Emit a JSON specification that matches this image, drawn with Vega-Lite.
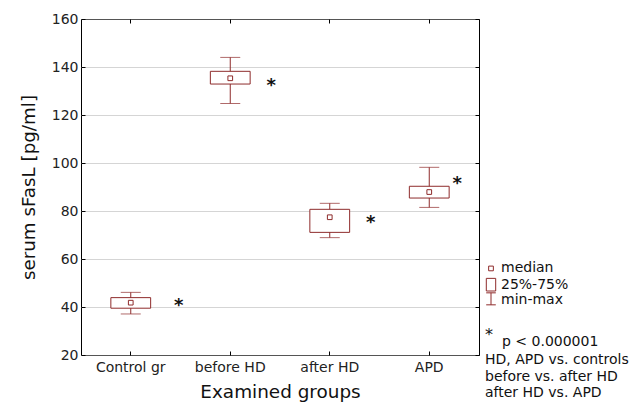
{
  "$schema": "https://vega.github.io/schema/vega-lite/v6.json",
  "padding": {"left": 18, "top": 11, "right": 0, "bottom": 0},
  "config": {
    "font": "DejaVu Sans",
    "view": {"stroke": "#000", "strokeWidth": 1},
    "axis": {"labelColor": "#222", "titleColor": "#111", "titleFontWeight": "normal", "domain": false, "tickColor": "#000"}
  },
  "spacing": 3,
  "resolve": {"scale": {"x": "independent", "y": "independent"}},
  "datasets": {
    "boxes": [
      {"group": "Control gr", "min": 37.1, "q1": 39.5, "median": 41.8, "q3": 43.9, "max": 46.1, "star": 42.9},
      {"group": "before HD", "min": 124.8, "q1": 132.9, "median": 135.3, "q3": 138.2, "max": 144.0, "star": 134.6},
      {"group": "after HD", "min": 68.9, "q1": 71.1, "median": 77.4, "q3": 80.7, "max": 83.2, "star": 77.5},
      {"group": "APD", "min": 81.5, "q1": 85.4, "median": 87.9, "q3": 90.3, "max": 98.2, "star": 93.9}
    ],
    "legendText": [
      {"label": "median", "col": 1.8, "row": 15.59},
      {"label": "25%-75%", "col": 1.8, "row": 16.6},
      {"label": "min-max", "col": 1.8, "row": 17.56},
      {"label": "p < 0.000001", "col": 1.9, "row": 20.17},
      {"label": "HD, APD vs. controls", "col": 0.2, "row": 21.31},
      {"label": "before vs. after HD", "col": 0.2, "row": 22.36},
      {"label": "after HD vs. APD", "col": 0.2, "row": 23.36}
    ],
    "legendMedian": [{"col": 0.8, "row": 15.59}],
    "legendBox": [{"col": 0.33, "col2": 1.27, "row": 16.21, "row2": 17.0}],
    "legendRange": [{"col": 0.8, "row": 17.49}],
    "legendStar": [{"label": "*", "col": 0.6, "row": 19.53}]
  },
  "hconcat": [
    {
      "width": 398,
      "height": 336,
      "data": {"name": "boxes"},
      "resolve": {"axis": {"x": "independent", "y": "independent"}},
      "layer": [
        {
          "mark": {"type": "rule", "color": "#8e2b2b", "strokeWidth": 1},
          "encoding": {
            "x": {"field": "group", "type": "nominal", "sort": ["Control gr", "before HD", "after HD", "APD"],
              "scale": {"type": "band", "paddingInner": 0.6, "paddingOuter": 0.3},
              "axis": {"orient": "bottom", "title": "Examined groups", "labelAngle": 0, "labelFontSize": 14, "labelDx": 6, "titleFontSize": 18.4, "tickSize": -4, "labelPadding": 9, "titlePadding": 8}},
            "y": {"field": "min", "type": "quantitative", "scale": {"domain": [20, 160], "nice": false, "zero": false},
              "axis": {"orient": "left", "title": "serum sFasL [pg/ml]", "values": [20, 40, 60, 80, 100, 120, 140, 160], "labelFontSize": 14, "titleFontSize": 18.3, "tickSize": -4, "labelPadding": 7, "titlePadding": 13, "grid": true, "gridDash": [1, 1], "gridColor": "#aaa"}},
            "y2": {"field": "max"}
          }
        },
        {
          "mark": {"type": "bar", "fill": "white", "stroke": "#8e2b2b", "strokeWidth": 1},
          "encoding": {
            "x": {"field": "group", "type": "nominal", "sort": ["Control gr", "before HD", "after HD", "APD"],
              "axis": {"orient": "top", "title": null, "labels": false, "tickSize": -4, "grid": false}},
            "y": {"field": "q1", "type": "quantitative",
              "axis": {"orient": "right", "title": null, "labels": false, "tickSize": -4, "grid": false, "values": [20, 40, 60, 80, 100, 120, 140, 160]}},
            "y2": {"field": "q3"}
          }
        },
        {
          "mark": {"type": "tick", "color": "#8e2b2b", "size": 20, "thickness": 1},
          "encoding": {
            "x": {"field": "group", "type": "nominal", "sort": ["Control gr", "before HD", "after HD", "APD"], "axis": null},
            "y": {"field": "min", "type": "quantitative", "axis": null}
          }
        },
        {
          "mark": {"type": "tick", "color": "#8e2b2b", "size": 20, "thickness": 1},
          "encoding": {
            "x": {"field": "group", "type": "nominal", "sort": ["Control gr", "before HD", "after HD", "APD"], "axis": null},
            "y": {"field": "max", "type": "quantitative", "axis": null}
          }
        },
        {
          "mark": {"type": "point", "shape": "square", "size": 22, "filled": false, "fill": "white", "fillOpacity": 1, "stroke": "#8e2b2b", "strokeWidth": 1, "opacity": 1},
          "encoding": {
            "x": {"field": "group", "type": "nominal", "sort": ["Control gr", "before HD", "after HD", "APD"], "axis": null},
            "y": {"field": "median", "type": "quantitative", "axis": null}
          }
        },
        {
          "transform": [{"filter": "datum.group === 'before HD' || datum.group === 'after HD'"}],
          "mark": {"type": "text", "text": "*", "fontSize": 18, "fontWeight": "bold", "color": "#111", "baseline": "alphabetic", "align": "center", "dx": 41, "dy": 11},
          "encoding": {
            "x": {"field": "group", "type": "nominal", "sort": ["Control gr", "before HD", "after HD", "APD"], "axis": null},
            "y": {"field": "star", "type": "quantitative", "axis": null}
          }
        },
        {
          "transform": [{"filter": "datum.group === 'Control gr'"}],
          "mark": {"type": "text", "text": "*", "fontSize": 18, "fontWeight": "bold", "color": "#111", "baseline": "alphabetic", "align": "center", "dx": 48, "dy": 11},
          "encoding": {
            "x": {"field": "group", "type": "nominal", "sort": ["Control gr", "before HD", "after HD", "APD"], "axis": null},
            "y": {"field": "star", "type": "quantitative", "axis": null}
          }
        },
        {
          "transform": [{"filter": "datum.group === 'APD'"}],
          "mark": {"type": "text", "text": "*", "fontSize": 18, "fontWeight": "bold", "color": "#111", "baseline": "alphabetic", "align": "center", "dx": 28, "dy": 11},
          "encoding": {
            "x": {"field": "group", "type": "nominal", "sort": ["Control gr", "before HD", "after HD", "APD"], "axis": null},
            "y": {"field": "star", "type": "quantitative", "axis": null}
          }
        }
      ]
    },
    {
      "width": 160,
      "height": 384,
      "view": {"stroke": null},
      "encoding": {
        "x": {"field": "col", "type": "quantitative", "scale": {"domain": [0, 16], "nice": false, "zero": false}, "axis": null},
        "y": {"field": "row", "type": "quantitative", "scale": {"domain": [0, 24], "nice": false, "zero": false, "reverse": true}, "axis": null}
      },
      "layer": [
        {
          "data": {"name": "legendBox"},
          "mark": {"type": "rect", "fill": "white", "stroke": "#8e2b2b", "strokeWidth": 1},
          "encoding": {"x2": {"field": "col2"}, "y2": {"field": "row2"}}
        },
        {
          "data": {"name": "legendMedian"},
          "mark": {"type": "point", "shape": "square", "size": 22, "filled": false, "stroke": "#8e2b2b", "strokeWidth": 1, "opacity": 1}
        },
        {
          "data": {"name": "legendRange"},
          "mark": {"type": "point", "shape": "M-0.8,-1H0.8M0,-1V1M-0.8,1H0.8", "size": 144, "filled": false, "stroke": "#8e2b2b", "strokeWidth": 1, "opacity": 1}
        },
        {
          "data": {"name": "legendStar"},
          "mark": {"type": "text", "fontSize": 16, "color": "#111", "align": "center", "baseline": "middle", "dy": 4},
          "encoding": {"text": {"field": "label"}}
        },
        {
          "data": {"name": "legendText"},
          "mark": {"type": "text", "fontSize": 14, "color": "#111", "align": "left", "baseline": "middle"},
          "encoding": {"text": {"field": "label"}}
        }
      ]
    }
  ]
}
